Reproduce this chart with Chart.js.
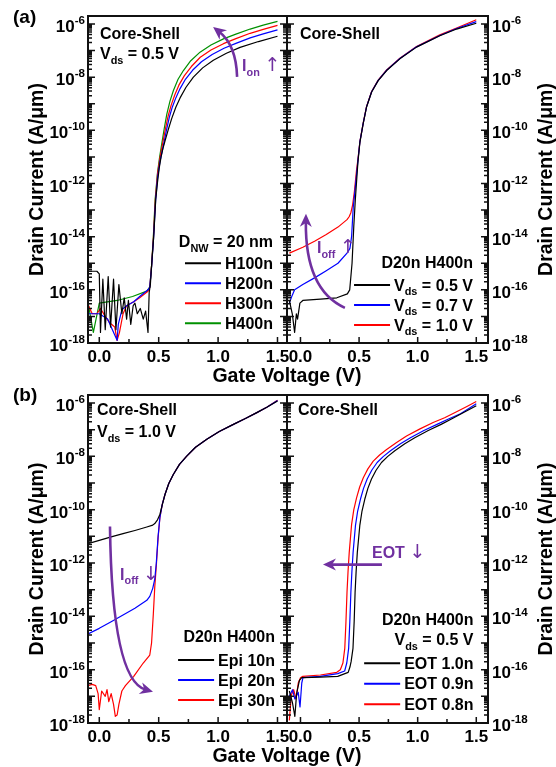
<!DOCTYPE html>
<html>
<head>
<meta charset="utf-8">
<script src="https://cdn.jsdelivr.net/npm/chart.js@4.4.1/dist/chart.umd.min.js"></script>
<style>
  html, body { margin: 0; padding: 0; background: #fff; }
  #wrap { position: relative; width: 556px; height: 767px; overflow: hidden; }
  canvas { position: absolute; left: 0; top: 0; }
</style>
</head>
<body>
<div id="wrap">
  <canvas id="aL" width="556" height="767"></canvas>
  <canvas id="aR" width="556" height="767"></canvas>
  <canvas id="bL" width="556" height="767"></canvas>
  <canvas id="bR" width="556" height="767"></canvas>
</div>
<script>
const W = 556, H = 767
const FONT = '"Liberation Sans", Arial, Helvetica, sans-serif'
const SYM_FONT = '"DejaVu Sans", sans-serif'
const PURPLE = '#7030a0'
const Y_MIN = 1e-18, Y_MAX = 2e-6

// gate voltage (V) and log10 of drain current (A/um)

// (a) left: Vds = 0.5 V, D_NW = 20 nm, different heights
const h100V = [-0.09, -0.02, 0.0, 0.01, 0.03, 0.05, 0.075, 0.095, 0.12, 0.14, 0.165, 0.19, 0.21, 0.23, 0.245, 0.265, 0.285, 0.3, 0.32, 0.345, 0.37, 0.39, 0.41, 0.42, 0.43, 0.44, 0.458, 0.475, 0.49, 0.505, 0.52, 0.536, 0.553, 0.58, 0.61, 0.645, 0.68, 0.73, 0.792, 0.87, 0.96, 1.07, 1.185, 1.34, 1.5]
const h100Log = [-15.3, -15.3, -15.4, -17.6, -15.6, -17.5, -15.5, -17.4, -15.6, -17.5, -15.8, -16.9, -16.3, -17.1, -16.4, -17.3, -16.6, -16.5, -16.9, -16.7, -17.1, -16.8, -17.6, -16.1, -15.8, -15.1, -14.0, -12.6, -11.95, -11.4, -11.0, -10.68, -10.4, -9.98, -9.55, -9.12, -8.78, -8.38, -8.0, -7.65, -7.36, -7.1, -6.88, -6.66, -6.46]
const h200V = [-0.09, 0.0, 0.07, 0.13, 0.15, 0.16, 0.19, 0.23, 0.29, 0.34, 0.41, 0.425, 0.44, 0.457, 0.474, 0.49, 0.51, 0.545, 0.565, 0.59, 0.615, 0.645, 0.68, 0.725, 0.785, 0.86, 0.95, 1.05, 1.15, 1.27, 1.38, 1.5]
const h200Log = [-16.9, -16.9, -17.1, -17.7, -17.9, -17.3, -16.75, -16.6, -16.45, -16.25, -16.0, -15.9, -15.15, -14.05, -12.65, -11.8, -11.2, -10.45, -10.0, -9.5, -9.12, -8.77, -8.43, -8.08, -7.74, -7.42, -7.15, -6.91, -6.73, -6.52, -6.37, -6.22]
const h300V = [-0.09, -0.06, -0.02, 0.01, 0.05, 0.09, 0.13, 0.15, 0.17, 0.2, 0.23, 0.29, 0.34, 0.41, 0.425, 0.44, 0.456, 0.472, 0.49, 0.51, 0.535, 0.555, 0.58, 0.605, 0.635, 0.67, 0.715, 0.775, 0.85, 0.94, 1.045, 1.15, 1.27, 1.38, 1.5]
const h300Log = [-16.6, -16.9, -16.9, -16.7, -17.0, -17.25, -17.4, -17.9, -17.6, -16.9, -16.6, -16.45, -16.3, -16.05, -15.9, -15.1, -14.0, -12.6, -11.65, -11.05, -10.45, -9.98, -9.45, -9.05, -8.67, -8.3, -7.95, -7.6, -7.25, -6.98, -6.74, -6.55, -6.35, -6.2, -6.05]
const h400V = [-0.09, -0.05, 0.0, 0.15, 0.28, 0.4, 0.425, 0.44, 0.455, 0.47, 0.49, 0.508, 0.526, 0.546, 0.568, 0.595, 0.624, 0.663, 0.708, 0.77, 0.848, 0.94, 1.045, 1.15, 1.27, 1.38, 1.5]
const h400Log = [-16.6, -17.6, -16.5, -16.4, -16.25, -16.05, -15.9, -15.1, -14.0, -12.6, -11.6, -11.0, -10.5, -9.95, -9.4, -8.9, -8.5, -8.08, -7.75, -7.38, -7.06, -6.79, -6.56, -6.38, -6.19, -6.04, -5.9]
const heightLabels = ['H100n', 'H200n', 'H300n', 'H400n']

// (a) right: D20n H400n, different Vds
const vds05V = [-0.095, -0.07, -0.05, -0.035, -0.025, -0.005, 0.02, 0.17, 0.31, 0.4, 0.42, 0.44, 0.455, 0.468, 0.49, 0.507, 0.535, 0.564, 0.607, 0.663, 0.735, 0.848, 0.99, 1.189, 1.332, 1.5]
const vds05Log = [-16.4, -16.9, -17.6, -16.9, -17.1, -16.5, -16.4, -16.35, -16.3, -16.15, -16.0, -15.0, -13.6, -12.6, -11.2, -10.45, -9.75, -9.12, -8.56, -8.13, -7.75, -7.31, -6.87, -6.44, -6.19, -5.97]
const vds07V = [-0.095, -0.07, -0.05, 0.02, 0.12, 0.22, 0.32, 0.397, 0.422, 0.436, 0.45, 0.462, 0.49, 0.507, 0.535, 0.564, 0.607, 0.663, 0.735, 0.848, 0.99, 1.189, 1.332, 1.5]
const vds07Log = [-16.5, -16.2, -16.0, -15.8, -15.55, -15.28, -15.0, -14.62, -14.44, -14.0, -12.9, -12.4, -11.15, -10.43, -9.74, -9.11, -8.55, -8.12, -7.74, -7.3, -6.86, -6.43, -6.17, -5.91]
const vds10V = [-0.095, 0.02, 0.12, 0.22, 0.32, 0.397, 0.415, 0.43, 0.445, 0.46, 0.478, 0.49, 0.507, 0.535, 0.564, 0.607, 0.663, 0.735, 0.848, 0.99, 1.189, 1.332, 1.5]
const vds10Log = [-14.62, -14.4, -14.17, -13.92, -13.64, -13.36, -13.25, -13.1, -12.8, -12.3, -11.5, -11.1, -10.42, -9.73, -9.1, -8.54, -8.11, -7.73, -7.29, -6.85, -6.41, -6.15, -5.84]
const vdsLabels = ['0.5 V', '0.7 V', '1.0 V']

// (b) left: Vds = 1.0 V, different epi thickness
const epi10V = [-0.095, 0.0, 0.1, 0.2, 0.3, 0.4, 0.45, 0.467, 0.49, 0.51, 0.53, 0.553, 0.585, 0.623, 0.675, 0.736, 0.81, 0.905, 1.01, 1.129, 1.23, 1.326, 1.41, 1.5]
const epi10Log = [-11.27, -11.15, -11.02, -10.9, -10.78, -10.65, -10.58, -10.52, -10.38, -10.18, -9.82, -9.43, -9.02, -8.68, -8.3, -7.99, -7.66, -7.36, -7.07, -6.8, -6.58, -6.36, -6.16, -5.92]
const epi20V = [-0.095, 0.0, 0.1, 0.2, 0.3, 0.4, 0.425, 0.45, 0.467, 0.48, 0.495, 0.51, 0.53, 0.553, 0.585, 0.623, 0.675, 0.736, 0.81, 0.905, 1.01, 1.129, 1.23, 1.326, 1.41, 1.5]
const epi20Log = [-14.66, -14.45, -14.2, -13.95, -13.7, -13.4, -13.25, -12.95, -12.6, -12.0, -11.0, -10.3, -9.8, -9.43, -9.02, -8.68, -8.3, -7.99, -7.66, -7.36, -7.07, -6.8, -6.58, -6.36, -6.16, -5.91]
const epi30V = [-0.095, -0.06, -0.03, -0.01, 0.0, 0.02, 0.05, 0.065, 0.08, 0.1, 0.12, 0.135, 0.15, 0.165, 0.19, 0.22, 0.29, 0.37, 0.425, 0.44, 0.455, 0.467, 0.48, 0.495, 0.51, 0.53, 0.553, 0.585, 0.623, 0.675, 0.736, 0.81, 0.905, 1.01, 1.129, 1.23, 1.326, 1.41, 1.5]
const epi30Log = [-16.6, -16.55, -16.6, -16.9, -17.5, -16.8, -17.0, -16.75, -17.2, -16.9, -17.3, -17.75, -17.7, -17.3, -16.8, -16.6, -16.25, -15.75, -15.45, -15.0, -13.9, -12.9, -12.1, -11.05, -10.3, -9.8, -9.43, -9.02, -8.68, -8.3, -7.99, -7.66, -7.36, -7.07, -6.8, -6.58, -6.36, -6.16, -5.9]
const epiLabels = ['Epi 10n', 'Epi 20n', 'Epi 30n']

// (b) right: Vds = 0.5 V, different EOT
const eot10V = [-0.095, -0.068, -0.048, -0.033, -0.009, 0.011, 0.021, 0.17, 0.318, 0.407, 0.422, 0.432, 0.448, 0.458, 0.466, 0.475, 0.485, 0.506, 0.525, 0.549, 0.575, 0.606, 0.645, 0.691, 0.745, 0.805, 0.89, 0.975, 1.09, 1.2, 1.3, 1.4, 1.5]
const eot10Log = [-16.8, -17.25, -17.75, -16.9, -16.4, -16.3, -16.3, -16.28, -16.25, -16.1, -15.9, -15.7, -15.2, -14.2, -13.1, -12.3, -11.6, -10.6, -10.05, -9.6, -9.2, -8.85, -8.52, -8.23, -8.0, -7.79, -7.53, -7.3, -7.03, -6.8, -6.57, -6.34, -6.1]
const eot09V = [-0.095, -0.068, -0.048, -0.019, -0.004, 0.011, 0.021, 0.17, 0.318, 0.377, 0.395, 0.411, 0.421, 0.43, 0.439, 0.449, 0.469, 0.488, 0.512, 0.538, 0.569, 0.608, 0.654, 0.708, 0.768, 0.853, 0.938, 1.053, 1.165, 1.263, 1.365, 1.45, 1.5]
const eot09Log = [-17.0, -16.75, -17.1, -16.85, -17.4, -16.5, -16.3, -16.25, -16.15, -16.05, -15.75, -15.2, -14.2, -13.1, -12.3, -11.6, -10.6, -10.05, -9.6, -9.2, -8.85, -8.52, -8.23, -8.0, -7.79, -7.53, -7.3, -7.03, -6.8, -6.6, -6.4, -6.17, -6.03]
const eot08V = [-0.095, -0.078, -0.058, -0.038, -0.019, 0.0, 0.02, 0.17, 0.31, 0.34, 0.362, 0.378, 0.388, 0.397, 0.406, 0.416, 0.436, 0.455, 0.479, 0.505, 0.536, 0.575, 0.621, 0.675, 0.735, 0.82, 0.905, 1.02, 1.132, 1.23, 1.332, 1.42, 1.5]
const eot08Log = [-17.9, -16.95, -16.75, -17.1, -16.5, -16.3, -16.25, -16.2, -16.1, -16.0, -15.75, -15.2, -14.2, -13.1, -12.3, -11.6, -10.56, -10.0, -9.55, -9.15, -8.8, -8.47, -8.18, -7.95, -7.74, -7.48, -7.24, -6.97, -6.73, -6.55, -6.33, -6.13, -5.94]
const eotLabels = ['EOT 1.0n', 'EOT 0.9n', 'EOT 0.8n']

// tick labels
const xTickValues = [0, 0.5, 1, 1.5]
const xTickLabels = ['0.0', '0.5', '1.0', '1.5']
const xMinorTicks = [0.25, 0.75, 1.25]
const yLabelExps = [-6, -8, -10, -12, -14, -16, -18]

const vdsParts = v => [['V'], ['ds', 'sub'], [' = ' + v]]

const panels = {
  aL: {
    area: { left: 88, top: 16, right: 287, bottom: 343 }, xMin: -0.095, xMax: 1.58, side: 'left',
    panelLabel: '(a)', labelDy: 7, xTitle: true,
    series: [
      { v: h100V, log: h100Log, color: '#000000' },
      { v: h200V, log: h200Log, color: '#0000ff' },
      { v: h300V, log: h300Log, color: '#ff0000' },
      { v: h400V, log: h400Log, color: '#009000' }
    ],
    texts: [
      { dx: 12, dy: 23, parts: [['Core-Shell']] },
      { dx: 12, dy: 43, parts: vdsParts('0.5 V') }
    ],
    legend: { right: 14, header: [{ dy: 231, parts: [['D'], ['NW', 'sub'], [' = 20 nm']] }], lineY: 247.3, gap: 20, labels: heightLabels.map(l => [[l]]) },
    arrows: [{ from: [1.16, -7.99], ctrl: [1.152, -6.79], to: [0.958, -6.11] }],
    notes: [{ at: [1.202, -7.77], parts: [['I'], ['on', 'sub'], [' '], ['\u2191', 'sym']] }]
  },
  aR: {
    area: { left: 287, top: 16, right: 488, bottom: 343 }, xMin: -0.115, xMax: 1.6, side: 'right',
    series: [
      { v: vds05V, log: vds05Log, color: '#000000' },
      { v: vds07V, log: vds07Log, color: '#0000ff' },
      { v: vds10V, log: vds10Log, color: '#ff0000' }
    ],
    texts: [{ dx: 13, dy: 23, parts: [['Core-Shell']] }],
    legend: { right: 15, header: [{ dy: 252, parts: [['D20n H400n']] }], lineY: 269, gap: 20, labels: vdsLabels.map(vdsParts) },
    arrows: [{ from: [0.379, -16.68], ctrl: [0.038, -16.0], to: [0.047, -13.14] }],
    notes: [{ at: [0.141, -14.61], parts: [['I'], ['off', 'sub'], [' '], ['\u2191', 'sym']] }]
  },
  bL: {
    area: { left: 88, top: 395, right: 287, bottom: 723 }, xMin: -0.095, xMax: 1.58, side: 'left',
    panelLabel: '(b)', labelDy: 6, xTitle: true,
    series: [
      { v: epi10V, log: epi10Log, color: '#000000' },
      { v: epi20V, log: epi20Log, color: '#0000ff' },
      { v: epi30V, log: epi30Log, color: '#ff0000' }
    ],
    texts: [
      { dx: 9, dy: 20, parts: [['Core-Shell']] },
      { dx: 9, dy: 42, parts: vdsParts('1.0 V') }
    ],
    legend: { right: 12, header: [{ dy: 247, parts: [['D20n H400n']] }], lineY: 265, gap: 20, labels: epiLabels.map(l => [[l]]) },
    arrows: [{ from: [0.09, -10.63], ctrl: [0.107, -16.38], to: [0.452, -16.83] }],
    notes: [{ at: [0.175, -12.62], parts: [['I'], ['off', 'sub'], [' '], ['\u2193', 'sym']] }]
  },
  bR: {
    area: { left: 287, top: 395, right: 488, bottom: 723 }, xMin: -0.115, xMax: 1.6, side: 'right',
    series: [
      { v: eot10V, log: eot10Log, color: '#000000' },
      { v: eot09V, log: eot09Log, color: '#0000ff' },
      { v: eot08V, log: eot08Log, color: '#ff0000' }
    ],
    texts: [{ dx: 11, dy: 20, parts: [['Core-Shell']] }],
    legend: { right: 14.5, header: [{ dy: 230, parts: [['D20n H400n']] }, { dy: 250, parts: vdsParts('0.5 V') }], lineY: 268.3, gap: 20.5, labels: eotLabels.map(l => [[l]]) },
    arrows: [{ from: [0.695, -12.06], ctrl: [0.45, -12.06], to: [0.192, -12.06] }],
    notes: [{ at: [0.61, -11.8], parts: [['EOT '], ['\u2193', 'sym']] }]
  }
}

function segFont(kind, size) {
  if (kind === 'sym') return `${size * 1.2}px ${SYM_FONT}`
  const s = kind ? size * 0.68 : size
  return `bold ${s}px ${FONT}`
}

function drawRich(ctx, parts, x, y, align, size, color) {
  const segs = parts.map(p => {
    const kind = p[1] || ''
    const font = segFont(kind, size)
    ctx.font = font
    return { t: p[0], kind, font, w: ctx.measureText(p[0]).width }
  })
  const total = segs.reduce((acc, g) => acc + g.w, 0)
  let cx = align === 'right' ? x - total : align === 'center' ? x - total / 2 : x
  ctx.fillStyle = color || '#000'
  ctx.textAlign = 'left'
  ctx.textBaseline = 'alphabetic'
  segs.forEach(g => {
    ctx.font = g.font
    const dy = g.kind === 'sub' ? size * 0.3 : g.kind === 'sup' ? -size * 0.47 : 0
    ctx.fillText(g.t, cx, y + dy)
    cx += g.w
  })
  return total
}

function drawArrow(ctx, p0, p1, p2) {
  const ang = Math.atan2(p2.y - p1.y, p2.x - p1.x)
  const len = 13, half = 6
  const c = Math.cos(ang), s = Math.sin(ang)
  ctx.strokeStyle = PURPLE
  ctx.fillStyle = PURPLE
  ctx.lineWidth = 2.6
  ctx.beginPath()
  ctx.moveTo(p0.x, p0.y)
  ctx.quadraticCurveTo(p1.x, p1.y, p2.x - len * 0.6 * c, p2.y - len * 0.6 * s)
  ctx.stroke()
  ctx.beginPath()
  ctx.moveTo(p2.x, p2.y)
  ctx.lineTo(p2.x - len * c - half * s, p2.y - len * s + half * c)
  ctx.lineTo(p2.x - len * 0.7 * c, p2.y - len * 0.7 * s)
  ctx.lineTo(p2.x - len * c + half * s, p2.y - len * s - half * c)
  ctx.closePath()
  ctx.fill()
}

const framePlugin = {
  id: 'frame',
  afterDatasetsDraw(chart) {
    const p = panels[chart.canvas.id]
    const { ctx, chartArea: a, scales: { x, y } } = chart
    const pt = ([v, lg]) => ({ x: x.getPixelForValue(v), y: y.getPixelForValue(Math.pow(10, lg)) })
    ctx.save()

    // frame and inward ticks
    ctx.strokeStyle = '#111'
    ctx.lineWidth = 2
    ctx.strokeRect(a.left, a.top, a.right - a.left, a.bottom - a.top)
    ctx.lineWidth = 1.5
    ctx.beginPath()
    xTickValues.forEach(v => { const px = x.getPixelForValue(v); ctx.moveTo(px, a.bottom); ctx.lineTo(px, a.bottom - 6) })
    xMinorTicks.forEach(v => { const px = x.getPixelForValue(v); ctx.moveTo(px, a.bottom); ctx.lineTo(px, a.bottom - 4) })
    for (let d = -18; d <= -6; d++) {
      for (let m = 1; m <= 9; m++) {
        const val = m * Math.pow(10, d)
        if (val > Y_MAX * 1.0001) break
        const py = y.getPixelForValue(val)
        const len = m === 1 ? 7 : 4
        ctx.moveTo(a.left, py); ctx.lineTo(a.left + len, py)
        ctx.moveTo(a.right, py); ctx.lineTo(a.right - len, py)
      }
    }
    ctx.stroke()

    // tick labels
    xTickValues.forEach((v, i) => drawRich(ctx, [[xTickLabels[i]]], x.getPixelForValue(v), a.bottom + 19, 'center', 17))
    yLabelExps.forEach(e => {
      const py = y.getPixelForValue(Math.pow(10, e))
      const parts = [['10'], [String(e), 'sup']]
      if (p.side === 'left') drawRich(ctx, parts, a.left - 3, py + 8, 'right', 17)
      else drawRich(ctx, parts, a.right + 4, py + 8, 'left', 17)
    })

    // axis titles and panel label
    const midY = (a.top + a.bottom) / 2
    ctx.save()
    if (p.side === 'left') ctx.translate(a.left - 45, midY)
    else ctx.translate(a.right + 64, midY)
    ctx.rotate(-Math.PI / 2)
    drawRich(ctx, [['Drain Current (A/\u03bcm)']], 0, 0, 'center', 19.5)
    ctx.restore()
    if (p.xTitle) drawRich(ctx, [['Gate Voltage (V)']], a.right, a.bottom + 39, 'center', 19.5)
    if (p.panelLabel) drawRich(ctx, [[p.panelLabel]], a.left - 75, a.top + p.labelDy, 'left', 19)

    // in-plot texts
    p.texts.forEach(t => drawRich(ctx, t.parts, a.left + t.dx, a.top + t.dy, 'left', 16))

    // legend
    const lg = p.legend
    lg.header.forEach(h => drawRich(ctx, h.parts, a.right - lg.right, a.top + h.dy, 'right', 16))
    chart.data.datasets.forEach((ds, i) => {
      const ly = a.top + lg.lineY + i * lg.gap
      const w = drawRich(ctx, lg.labels[i], a.right - lg.right, ly + 5.5, 'right', 16)
      const tx = a.right - lg.right - w
      ctx.strokeStyle = ds.borderColor
      ctx.lineWidth = 2
      ctx.beginPath()
      ctx.moveTo(tx - 40, ly)
      ctx.lineTo(tx - 4, ly)
      ctx.stroke()
    })

    // purple annotations
    p.arrows.forEach(ar => drawArrow(ctx, pt(ar.from), pt(ar.ctrl), pt(ar.to)))
    p.notes.forEach(n => { const q = pt(n.at); drawRich(ctx, n.parts, q.x, q.y, 'left', 16, PURPLE) })

    ctx.restore()
  }
}

function buildPanel(id) {
  const p = panels[id]
  const a = p.area
  return new Chart(document.getElementById(id), {
    type: 'line',
    data: {
      datasets: p.series.map(s => ({
        data: s.v.map((v, i) => ({ x: v, y: Math.pow(10, s.log[i]) })),
        borderColor: s.color,
        borderWidth: 1.2,
        borderJoinStyle: 'round',
        pointRadius: 0,
        fill: false,
        tension: 0
      }))
    },
    options: {
      responsive: false,
      animation: false,
      devicePixelRatio: 1,
      events: [],
      layout: { padding: { left: a.left, top: a.top, right: W - a.right, bottom: H - a.bottom } },
      plugins: { legend: { display: false }, tooltip: { enabled: false } },
      scales: {
        x: { type: 'linear', min: p.xMin, max: p.xMax, display: false },
        y: { type: 'logarithmic', min: Y_MIN, max: Y_MAX, display: false }
      }
    },
    plugins: [framePlugin]
  })
}

Object.keys(panels).forEach(buildPanel)
</script>
</body>
</html>
